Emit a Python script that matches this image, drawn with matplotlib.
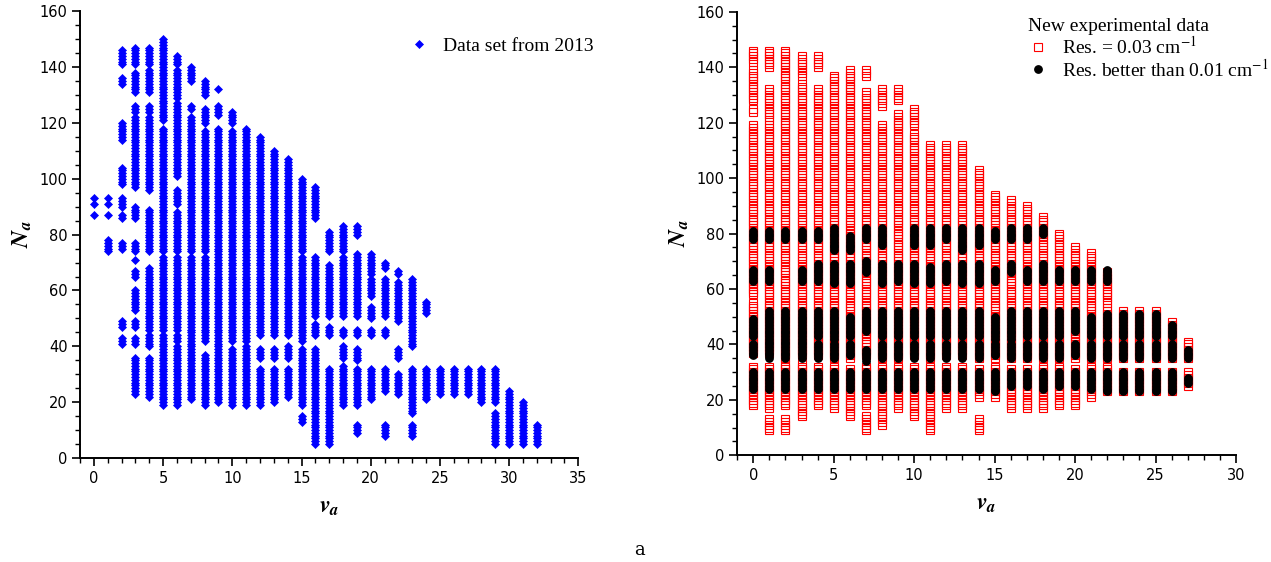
import numpy as np
import matplotlib
matplotlib.use("Agg")
import matplotlib.pyplot as plt
from matplotlib.ticker import MultipleLocator

plt.rcParams['mathtext.fontset'] = 'stix'

# --- Data: N_a ranges (lo, hi) measured at each v_a ---
old_v = list(range(0, 33))
old_ranges = [
    [(87, 87), (91, 91), (93, 93)],
    [(74, 78), (87, 87), (91, 91), (93, 93)],
    [(41, 43), (47, 49), (75, 77), (86, 87), (90, 93), (98, 104), (114, 120), (134, 136), (141, 146)],
    [(23, 36), (41, 43), (47, 49), (53, 60), (65, 67), (71, 71), (74, 77), (86, 90), (97, 122),
     (124, 126), (131, 138), (141, 147)],
    [(22, 36), (40, 44), (46, 68), (74, 89), (96, 122), (124, 126), (131, 139), (141, 147)],
    [(19, 44), (46, 72), (74, 118), (121, 150)],
    [(19, 40), (42, 44), (46, 72), (74, 88), (91, 96), (101, 127), (129, 139), (141, 144)],
    [(21, 72), (74, 122), (125, 126), (135, 140)],
    [(19, 37), (42, 72), (74, 117), (120, 125), (130, 135)],
    [(20, 118), (123, 126), (132, 132)],
    [(19, 39), (42, 117), (120, 124)],
    [(19, 40), (42, 118)],
    [(19, 32), (36, 39), (44, 115)],
    [(20, 32), (36, 39), (44, 110)],
    [(22, 32), (36, 40), (44, 107)],
    [(13, 15), (19, 39), (42, 72), (74, 100)],
    [(5, 39), (44, 48), (51, 72), (86, 97)],
    [(5, 32), (44, 47), (51, 69), (74, 81)],
    [(19, 33), (36, 40), (44, 46), (51, 72), (74, 83)],
    [(9, 12), (19, 32), (35, 39), (44, 46), (51, 73), (80, 83)],
    [(21, 32), (44, 46), (50, 54), (58, 64), (66, 73)],
    [(8, 12), (24, 32), (44, 46), (51, 64), (68, 70)],
    [(23, 30), (36, 39), (49, 63), (66, 67)],
    [(8, 12), (16, 32), (40, 64)],
    [(21, 32), (52, 56)],
    [(23, 32)],
    [(23, 32)],
    [(23, 32)],
    [(20, 32)],
    [(5, 16), (20, 32)],
    [(5, 24)],
    [(5, 20)],
    [(5, 12)],
]

new_v = list(range(0, 28))
res03_ranges = [
    [(18, 32), (37, 55), (58, 119), (124, 125), (128, 139), (142, 146)],
    [(9, 13), (17, 32), (37, 119), (121, 132), (140, 146)],
    [(9, 13), (18, 33), (35, 139), (140, 146)],
    [(14, 33), (36, 134), (137, 144)],
    [(18, 32), (36, 132), (140, 144)],
    [(17, 32), (35, 137)],
    [(14, 31), (35, 139)],
    [(9, 14), (18, 32), (36, 131), (137, 139)],
    [(11, 32), (35, 119), (126, 132)],
    [(17, 32), (35, 123), (128, 132)],
    [(14, 32), (36, 116), (119, 125)],
    [(9, 32), (35, 112)],
    [(17, 32), (36, 112)],
    [(17, 32), (36, 112)],
    [(9, 13), (21, 31), (35, 103)],
    [(21, 32), (35, 94)],
    [(17, 31), (35, 92)],
    [(17, 31), (35, 90)],
    [(17, 32), (35, 86)],
    [(18, 32), (35, 80)],
    [(18, 31), (35, 75)],
    [(21, 32), (35, 73)],
    [(23, 32), (35, 53), (55, 66)],
    [(23, 30), (35, 52)],
    [(23, 30), (35, 52)],
    [(23, 30), (35, 52)],
    [(23, 30), (35, 48)],
    [(25, 30), (35, 41)],
]
res01_ranges = [
    [(24, 30), (36, 40), (43, 49), (63, 67), (78, 81)],
    [(24, 30), (35, 52), (63, 67), (78, 81)],
    [(24, 30), (35, 52), (78, 81)],
    [(24, 30), (35, 52), (63, 67), (78, 81)],
    [(24, 30), (35, 40), (43, 52), (63, 69), (78, 81)],
    [(24, 30), (35, 40), (42, 52), (62, 69), (74, 82)],
    [(24, 30), (36, 40), (43, 50), (62, 69), (74, 79)],
    [(24, 30), (34, 38), (45, 52), (66, 70), (78, 82)],
    [(24, 30), (35, 40), (43, 52), (62, 69), (76, 82)],
    [(24, 30), (35, 40), (43, 52), (63, 69)],
    [(24, 30), (35, 40), (43, 52), (62, 69), (76, 82)],
    [(24, 30), (35, 40), (43, 52), (62, 68), (76, 82)],
    [(24, 30), (35, 40), (43, 52), (63, 69), (78, 82)],
    [(24, 30), (35, 40), (43, 52), (62, 69), (74, 82)],
    [(24, 30), (35, 40), (43, 52), (62, 69), (76, 82)],
    [(23, 30), (36, 40), (42, 50), (63, 67), (78, 81)],
    [(25, 30), (35, 40), (42, 52), (66, 69), (78, 82)],
    [(25, 30), (35, 40), (43, 52), (63, 67), (78, 82)],
    [(24, 30), (35, 40), (43, 52), (63, 69), (80, 82)],
    [(25, 30), (35, 40), (43, 52), (63, 67)],
    [(25, 30), (36, 40), (45, 52), (63, 67)],
    [(24, 30), (35, 40), (43, 50), (63, 67)],
    [(23, 30), (35, 40), (43, 51), (63, 67)],
    [(23, 30), (35, 40), (43, 51)],
    [(23, 30), (35, 40), (43, 51)],
    [(23, 30), (35, 40), (43, 51)],
    [(23, 30), (35, 40), (43, 47)],
    [(26, 28), (35, 38)],
]


def expand(vs, ranges):
    # integer quantum numbers: every N_a inside each measured range
    xs, ys = [], []
    for v, segs in zip(vs, ranges):
        for lo, hi in segs:
            n = np.arange(lo, hi + 1)
            xs.extend([v] * len(n))
            ys.extend(n)
    return np.array(xs), np.array(ys)


def style_axes(ax, xmax):
    ax.spines['top'].set_visible(False)
    ax.spines['right'].set_visible(False)
    for s in ('left', 'bottom'):
        ax.spines[s].set_linewidth(1.4)
    ax.set_xlim(-1, xmax)
    ax.set_ylim(0, 160)
    ax.xaxis.set_major_locator(MultipleLocator(5))
    ax.xaxis.set_minor_locator(MultipleLocator(1))
    ax.yaxis.set_major_locator(MultipleLocator(20))
    ax.yaxis.set_minor_locator(MultipleLocator(5))
    ax.tick_params(which='major', length=6, width=1.2, labelsize=10.5, direction='out', pad=3)
    ax.tick_params(which='minor', length=3.5, width=1.0, direction='out')
    ax.set_xlabel(r'$\mathbfit{v}_{\mathbfit{a}}$', fontsize=17, labelpad=6)
    ax.set_ylabel(r'$\mathbfit{N}_{\mathbfit{a}}$', fontsize=17, labelpad=4)


fig = plt.figure(figsize=(12.71, 5.62), dpi=100)
ax1 = fig.add_axes([0.063, 0.185, 0.392, 0.795])
ax2 = fig.add_axes([0.580, 0.190, 0.3925, 0.789])

# --- left panel: 2013 data ---
x, y = expand(old_v, old_ranges)
ax1.plot(x, y, 'D', color='#0000ff', ms=3.9, mew=0.5, ls='none', label='Data set from 2013')
style_axes(ax1, 35)
ax1.legend(loc='upper left', bbox_to_anchor=(0.66, 0.942), frameon=False, borderpad=0,
           borderaxespad=0, handlelength=1, handletextpad=0.75,
           prop={'family': 'Liberation Serif', 'size': 14})

# --- right panel: new data ---
x, y = expand(new_v, res03_ranges)
ax2.plot(x, y, 's', mfc='none', mec='#ff0000', ms=5.2, mew=0.8, ls='none',
         label=r'Res. = 0.03 cm$^{\mathrm{-1}}$')
x, y = expand(new_v, res01_ranges)
ax2.plot(x, y, 'o', color='black', ms=5.3, ls='none',
         label=r'Res. better than 0.01 cm$^{\mathrm{-1}}$')
style_axes(ax2, 30)
leg = ax2.legend(loc='upper left', bbox_to_anchor=(0.583, 0.985), frameon=False, borderpad=0,
                 borderaxespad=0, handlelength=1, handletextpad=0.75, labelspacing=0.02,
                 title='New experimental data', alignment='left',
                 prop={'family': 'Liberation Serif', 'size': 14},
                 title_fontproperties={'family': 'Liberation Serif', 'size': 14})

fig.text(0.5035, 0.012, 'a', family='DejaVu Serif', fontsize=13, ha='center')

fig.savefig('out.png', dpi=100)
